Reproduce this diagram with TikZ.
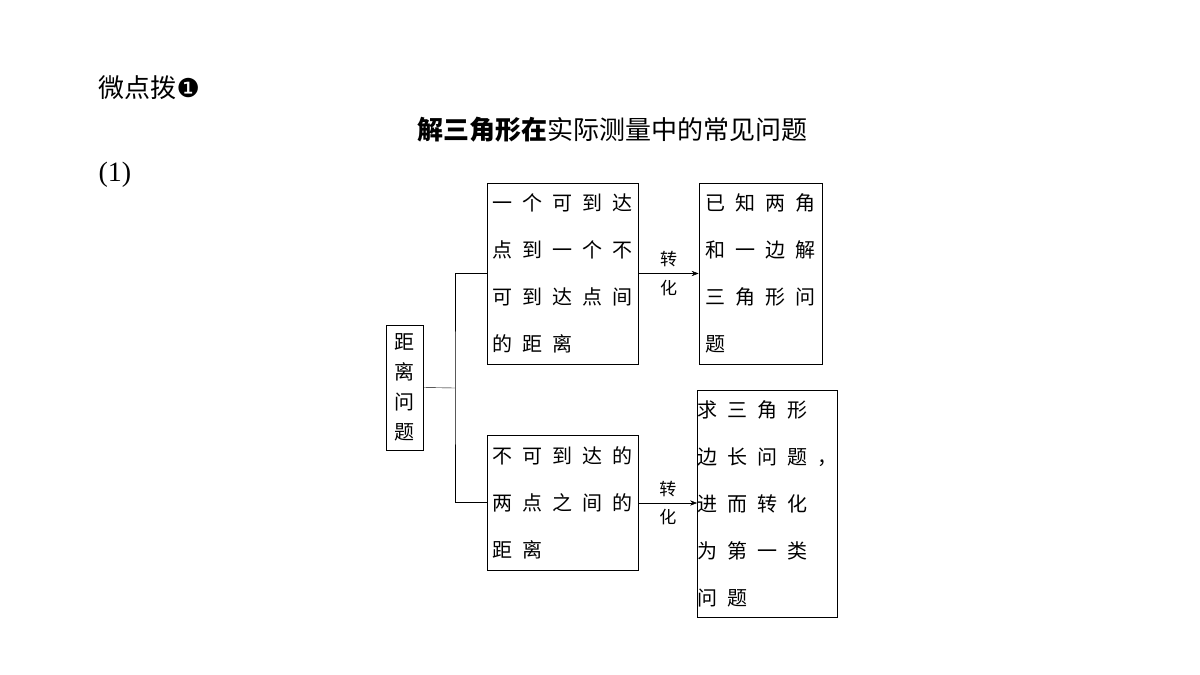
\documentclass[tikz,border=0pt]{standalone}
\usepackage{fontspec}
\setmainfont{Liberation Serif}
\newfontfamily\cjk{Noto Sans CJK SC}
\newfontfamily\cjkbox[LetterSpace=50]{Noto Sans CJK SC}
\newfontfamily\dejavu{DejaVu Sans}
\usetikzlibrary{positioning,arrows.meta}
\tikzset{
  box/.style={draw, thick, rectangle, align=left, inner sep=0pt,
    font=\cjkbox\fontsize{20}{47}\selectfont},
  lbl/.style={font=\cjk\fontsize{17}{20}\selectfont}
}
\begin{document}
\begin{tikzpicture}[x=1pt, y=-1pt]
  \useasboundingbox (0,0) rectangle (1200,675);
  \node[anchor=west, font=\cjk\fontsize{26}{30}\selectfont] (head) at (95,88)
    {微点拨{\dejavu ❶}};
  \node[font=\cjk\fontsize{26}{30}\selectfont] (title) at (612,130)
    {\textbf{解三角形在}实际测量中的常见问题};
  \node[anchor=west, font=\fontsize{28}{30}\selectfont] (num) at (95,175) {(1)};

  % boxes
  \node[box, minimum width=37, minimum height=125, align=center,
    font=\cjk\fontsize{20}{30}\selectfont] (dist) at (404.5,387.5)
    {距\\离\\问\\题};
  \node[box, minimum width=151, minimum height=181] (far) at (562.5,273.5)
    {一个可到达\\点到一个不\\可到达点间\\的距离};
  \node[box, minimum width=123, minimum height=181] (tri) at (760.5,273.5)
    {已知两角\\和一边解\\三角形问\\题};
  \node[box, minimum width=151, minimum height=135] (two) at (562.5,502.5)
    {不可到达的\\两点之间的\\距离};
  \node[box, minimum width=137, minimum height=227] (side) at (767.5,503.5)
    {求三角形\\边长问题，\\进而转化\\为第一类\\问题};

  % tree
  \coordinate (fork) at (455,388);
  \draw (dist.east) -- (fork);
  \draw (far.west) -| (fork) |- (two.west);

  % arrows
  \draw[-{Stealth[length=7pt]}] (far) -- node[lbl, above=3pt] {转} node[lbl, below=3pt] {化} (tri);
  \draw[-{Stealth[length=7pt]}] (two.east |- 0,503) -- node[lbl, above=3pt] {转} node[lbl, below=3pt] {化} (side.west |- 0,503);
\end{tikzpicture}
\end{document}
